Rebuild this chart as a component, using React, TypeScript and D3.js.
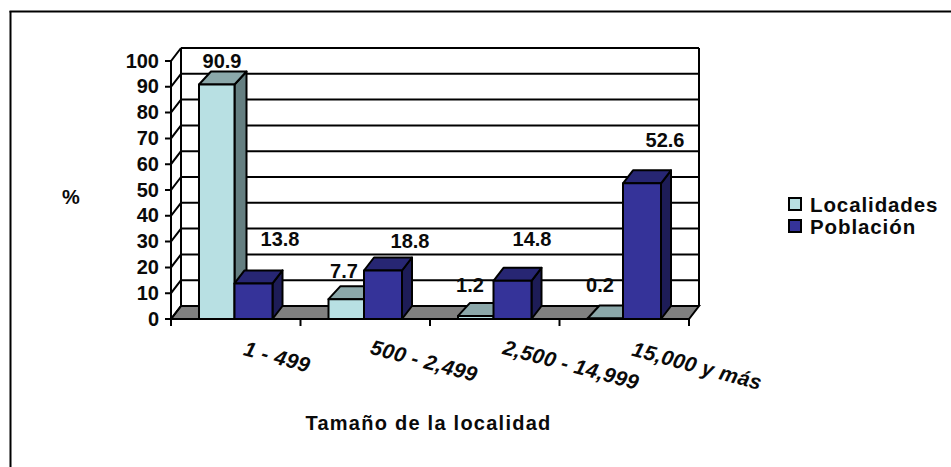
import React from "react";
import * as d3 from "d3";

const categories = ["1 - 499", "500 - 2,499", "2,500 - 14,999", "15,000 y más"];
const localidades = [90.9, 7.7, 1.2, 0.2];
const poblacion = [13.8, 18.8, 14.8, 52.6];
const yTicks = [0, 10, 20, 30, 40, 50, 60, 70, 80, 90, 100];
const seriesNames = ["Localidades", "Población"];

const font = "Liberation Sans, Arial, sans-serif";
const ink = "#000";
const faces = [
  { front: "#B8E0E3", top: "#8BA8AA", side: "#657F81", dx: 12 },
  { front: "#353399", top: "#272673", side: "#1D1C57", dx: 10 },
];

const depth = { x: 10, y: -13 };
const barRise = -13;
const lineW = 2;

const x = d3.scaleLinear().domain([0, 4]).range([171, 689]);
const y = d3.scaleLinear().domain([0, 100]).range([319, 61]);

function pts(list: number[][]) {
  return list.map((p) => p.join(",")).join(" ");
}

function Bar({ x0, x1, value, face }: { x0: number; x1: number; value: number; face: typeof faces[number] }) {
  const top = y(value);
  const base = y(0);
  const dx = face.dx;
  const dy = barRise;
  const common = { stroke: ink, strokeWidth: lineW, strokeLinejoin: "round" as const };
  return (
    <g>
      <polygon points={pts([[x1, top], [x1 + dx, top + dy], [x1 + dx, base + dy], [x1, base]])} fill={face.side} {...common} />
      <polygon points={pts([[x0, top], [x0 + dx, top + dy], [x1 + dx, top + dy], [x1, top]])} fill={face.top} {...common} />
      <rect x={x0} y={top} width={x1 - x0} height={base - top} fill={face.front} {...common} />
    </g>
  );
}

export default function App() {
  const barW = [35.5, 38];
  const start = 28;
  const labelStyle = { fontFamily: font, fontWeight: 700, fontSize: 20, fill: "#0a0a0a" };
  const valueLabels = [
    { v: localidades[0], p: [222, 68] },
    { v: poblacion[0], p: [280, 246] },
    { v: localidades[1], p: [344, 278] },
    { v: poblacion[1], p: [410, 248] },
    { v: localidades[2], p: [470, 292] },
    { v: poblacion[2], p: [532, 246] },
    { v: localidades[3], p: [600, 292] },
    { v: poblacion[3], p: [665, 147] },
  ];
  const catPos = [
    [277, 357],
    [424, 361],
    [571, 365],
    [697, 366],
  ];
  return (
    <svg width={951} height={467} style={{ position: "absolute", left: 0, top: 0, background: "#fff" }}>
      {/* frame: only the top and left edges fall inside the canvas */}
      <line x1={9.5} x2={951} y1={11.5} y2={11.5} stroke={ink} strokeWidth={2} />
      <line x1={10.5} x2={10.5} y1={11} y2={467} stroke={ink} strokeWidth={2} />

      {/* floor and back wall */}
      <polygon
        points={pts([[x(0), y(0)], [x(0) + depth.x, y(0) + depth.y], [x(4) + depth.x, y(0) + depth.y], [x(4), y(0)]])}
        fill="#808080"
        stroke={ink}
        strokeWidth={lineW}
      />
      {yTicks.map((t) => (
        <g key={t} stroke={ink} strokeWidth={lineW} fill="none">
          {t > 0 && <line x1={x(0) + depth.x} x2={x(4) + depth.x} y1={y(t) + depth.y} y2={y(t) + depth.y} />}
          <polyline points={pts([[x(0) - 6, y(t)], [x(0), y(t)], [x(0) + depth.x, y(t) + depth.y]])} />
        </g>
      ))}
      <line x1={x(0)} x2={x(0)} y1={y(0)} y2={y(100)} stroke={ink} strokeWidth={lineW} />
      <line x1={x(0) + depth.x} x2={x(0) + depth.x} y1={y(0) + depth.y} y2={y(100) + depth.y} stroke={ink} strokeWidth={lineW} />
      <line x1={x(4) + depth.x} x2={x(4) + depth.x} y1={y(0) + depth.y} y2={y(100) + depth.y} stroke={ink} strokeWidth={lineW} />
      <line x1={x(0)} x2={x(4)} y1={y(0)} y2={y(0)} stroke={ink} strokeWidth={lineW} />
      {d3.range(5).map((i) => (
        <line key={i} x1={x(i)} x2={x(i)} y1={y(0)} y2={y(0) + 7} stroke={ink} strokeWidth={lineW} />
      ))}

      {/* paired bars for each size class */}
      {categories.map((c, i) => {
        const a = x(i) + start;
        const b = a + barW[0];
        const e = b + barW[1];
        return (
          <g key={c}>
            <Bar x0={a} x1={b} value={localidades[i]} face={faces[0]} />
            <Bar x0={b} x1={e} value={poblacion[i]} face={faces[1]} />
          </g>
        );
      })}

      {yTicks.map((t) => (
        <text key={t} x={159} y={y(t) + 6.5} textAnchor="end" {...labelStyle}>
          {t}
        </text>
      ))}
      {valueLabels.map((l, i) => (
        <text key={i} x={l.p[0]} y={l.p[1]} textAnchor="middle" {...labelStyle}>
          {l.v.toFixed(1)}
        </text>
      ))}
      {categories.map((c, i) => (
        <text
          key={c}
          transform={`translate(${catPos[i][0]},${catPos[i][1]}) rotate(15)`}
          textAnchor="middle"
          {...labelStyle}
          fontSize={21}
          fontStyle="italic"
          letterSpacing={0.3}
          dy={7}
        >
          {c}
        </text>
      ))}
      <text x={71} y={204} textAnchor="middle" {...labelStyle}>
        %
      </text>
      <text x={428.5} y={430} textAnchor="middle" {...labelStyle} letterSpacing={1.25}>
        Tamaño de la localidad
      </text>

      {/* legend */}
      {seriesNames.map((n, i) => (
        <g key={n}>
          <rect x={789} y={198 + i * 22} width={12} height={12} fill={faces[i].front} stroke={ink} strokeWidth={2} />
          <text x={810} y={212 + i * 22} {...labelStyle} fontSize={20.5} letterSpacing={0.9}>
            {n}
          </text>
        </g>
      ))}
    </svg>
  );
}
